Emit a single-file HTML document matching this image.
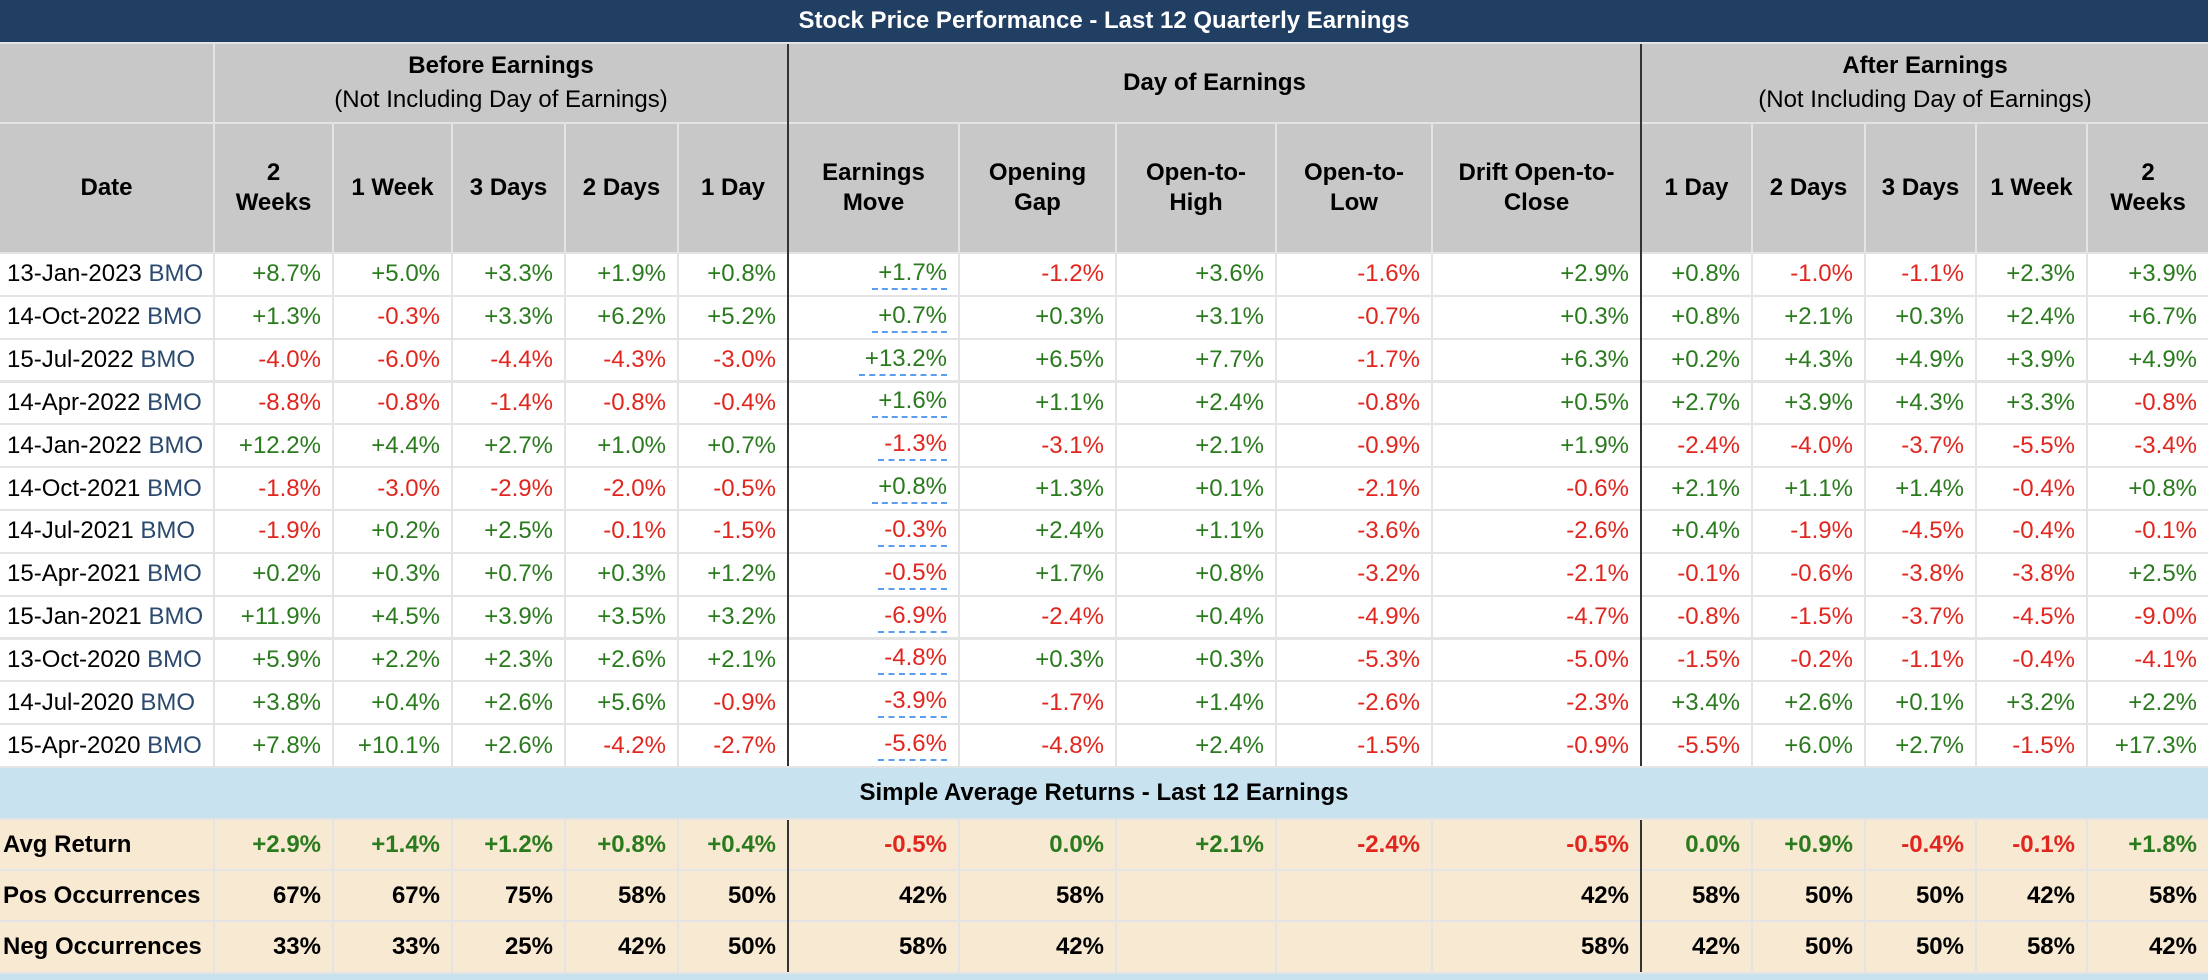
<!DOCTYPE html>
<html><head><meta charset="utf-8">
<style>
html,body{margin:0;padding:0;background:#fff;}
body{width:2208px;height:978px;position:relative;overflow:hidden;font-family:"Liberation Sans",Arial,sans-serif;font-size:24px;}
.c{position:absolute;box-sizing:border-box;display:flex;align-items:center;}
.r{justify-content:flex-end;padding-right:11px;}
.ctr{justify-content:center;text-align:center;flex-direction:column;}
.b{font-weight:bold;}
.pos{color:#2a7a1e;}
.neg{color:#e0261e;}
.dv{position:absolute;width:2px;background:#333;}
</style></head>
<body>
<div class="c ctr b" style="left:0;top:0;width:2208px;height:42px;background:#213f63;color:#fff;">Stock Price Performance - Last 12 Quarterly Earnings</div>
<div id="root"></div>
<script>
const dates=["13-Jan-2023","14-Oct-2022","15-Jul-2022","14-Apr-2022","14-Jan-2022","14-Oct-2021","14-Jul-2021","15-Apr-2021","15-Jan-2021","13-Oct-2020","14-Jul-2020","15-Apr-2020"];
const before2w=[8.7,1.3,-4.0,-8.8,12.2,-1.8,-1.9,0.2,11.9,5.9,3.8,7.8];
const before1w=[5.0,-0.3,-6.0,-0.8,4.4,-3.0,0.2,0.3,4.5,2.2,0.4,10.1];
const before3d=[3.3,3.3,-4.4,-1.4,2.7,-2.9,2.5,0.7,3.9,2.3,2.6,2.6];
const before2d=[1.9,6.2,-4.3,-0.8,1.0,-2.0,-0.1,0.3,3.5,2.6,5.6,-4.2];
const before1d=[0.8,5.2,-3.0,-0.4,0.7,-0.5,-1.5,1.2,3.2,2.1,-0.9,-2.7];
const earnMove=[1.7,0.7,13.2,1.6,-1.3,0.8,-0.3,-0.5,-6.9,-4.8,-3.9,-5.6];
const openGap=[-1.2,0.3,6.5,1.1,-3.1,1.3,2.4,1.7,-2.4,0.3,-1.7,-4.8];
const openHigh=[3.6,3.1,7.7,2.4,2.1,0.1,1.1,0.8,0.4,0.3,1.4,2.4];
const openLow=[-1.6,-0.7,-1.7,-0.8,-0.9,-2.1,-3.6,-3.2,-4.9,-5.3,-2.6,-1.5];
const drift=[2.9,0.3,6.3,0.5,1.9,-0.6,-2.6,-2.1,-4.7,-5.0,-2.3,-0.9];
const after1d=[0.8,0.8,0.2,2.7,-2.4,2.1,0.4,-0.1,-0.8,-1.5,3.4,-5.5];
const after2d=[-1.0,2.1,4.3,3.9,-4.0,1.1,-1.9,-0.6,-1.5,-0.2,2.6,6.0];
const after3d=[-1.1,0.3,4.9,4.3,-3.7,1.4,-4.5,-3.8,-3.7,-1.1,0.1,2.7];
const after1w=[2.3,2.4,3.9,3.3,-5.5,-0.4,-0.4,-3.8,-4.5,-0.4,3.2,-1.5];
const after2w=[3.9,6.7,4.9,-0.8,-3.4,0.8,-0.1,2.5,-9.0,-4.1,2.2,17.3];
const avgReturn=[2.9,1.4,1.2,0.8,0.4,-0.5,0.0,2.1,-2.4,-0.5,0.0,0.9,-0.4,-0.1,1.8];
const posOcc=["67%","67%","75%","58%","50%","42%","58%","","","42%","58%","50%","50%","42%","58%"];
const negOcc=["33%","33%","25%","42%","50%","58%","42%","","","58%","42%","50%","50%","58%","42%"];
const colHeaders=["2<br>Weeks","1 Week","3 Days","2 Days","1 Day","Earnings<br>Move","Opening<br>Gap","Open-to-<br>High","Open-to-<br>Low","Drift Open-to-<br>Close","1 Day","2 Days","3 Days","1 Week","2<br>Weeks"];
const colNames=["before-2-weeks","before-1-week","before-3-days","before-2-days","before-1-day","earnings-move","opening-gap","open-to-high","open-to-low","drift-open-to-close","after-1-day","after-2-days","after-3-days","after-1-week","after-2-weeks"];
const series=[before2w,before1w,before3d,before2d,before1d,earnMove,openGap,openHigh,openLow,drift,after1d,after2d,after3d,after1w,after2w];

const edges=[0,215,334,453,566,679,789,960,1117,1277,1433,1642,1753,1866,1977,2088,2208];
const root=document.getElementById('root');
const G=2;
function cell(x0,x1,y0,y1,bg,cls,html){
  const d=document.createElement('div');
  d.className='c '+(cls||'');
  d.style.left=x0+'px';d.style.top=y0+'px';
  d.style.width=(x1-x0-G)+'px';d.style.height=(y1-y0-G)+'px';
  d.style.background=bg;
  d.innerHTML=html;
  root.appendChild(d);
  return d;
}
document.body.style.background='#e4e4e4';
// group header
const hg='#c8c8c8';
let d;
d=cell(0,215,44,124,hg,'ctr b','');


d=cell(215,789,44,124,hg,'ctr','<span class="b">Before Earnings</span><span style="margin-top:6px">(Not Including Day of Earnings)</span>');


d=cell(789,1642,44,124,hg,'ctr b','Day of Earnings');


d=cell(1642,2210,44,124,hg,'ctr','<span class="b">After Earnings</span><span style="margin-top:6px">(Not Including Day of Earnings)</span>');


// column header
d=cell(0,215,124,254,hg,'ctr b','Date');


for(let j=0;j<15;j++){
  d=cell(edges[j+1],edges[j+2]+(j==14?2:0),124,254,hg,'ctr b','<span style="line-height:30px">'+colHeaders[j]+'</span>');
  
  
}
function fmt(v){return (v>0?'+':(v<0?'-':''))+Math.abs(v).toFixed(1)+'%';}
function cl(v){return v<0?'neg':'pos';}
const rh=(768-254)/12;
for(let i=0;i<12;i++){
  const y0=254+i*rh,y1=254+(i+1)*rh;
  d=cell(0,215,y0,y1,'#fff','','<span style="padding-left:7px">'+dates[i]+' <span style="color:#2c4a6e">BMO</span></span>');
  
  
  for(let j=0;j<15;j++){
    const v=series[j][i];
    let inner=fmt(v);
    if(j==5) inner='<span style="border-bottom:2px dashed #5a9ef0;padding:0 0 1px 6px;">'+inner+'</span>';
    d=cell(edges[j+1],edges[j+2]+(j==14?2:0),y0,y1,'#fff','r '+cl(v),inner);
    
    
  }
}
d=cell(0,2210,768,820,'#c8e3ef','ctr b','Simple Average Returns - Last 12 Earnings');


const sb='#f8e9d2';
const sumRows=[["Avg Return",820,871],["Pos Occurrences",871,922],["Neg Occurrences",922,974]];
sumRows.forEach((s,k)=>{
  d=cell(0,215,s[1],s[2],sb,'b','<span style="padding-left:3px">'+s[0]+'</span>');
  
  
  for(let j=0;j<15;j++){
    let html,c='r b';
    if(k==0){html=fmt(avgReturn[j]);c+=' '+cl(avgReturn[j]);}
    else html=(k==1?posOcc:negOcc)[j];
    d=cell(edges[j+1],edges[j+2]+(j==14?2:0),s[1],s[2],sb,c,html);
    
    
  }
});
d=cell(0,2210,974,982,'#c8e3ef','','');


// dark dividers
[[789,44,768],[1642,44,768],[789,820,974],[1642,820,974]].forEach(a=>{
  const v=document.createElement('div');
  v.className='dv';
  v.style.left=(a[0]-2)+'px';v.style.top=a[1]+'px';v.style.height=(a[2]-a[1]-2)+'px';
  
  
  root.appendChild(v);
});
</script>
</body></html>
